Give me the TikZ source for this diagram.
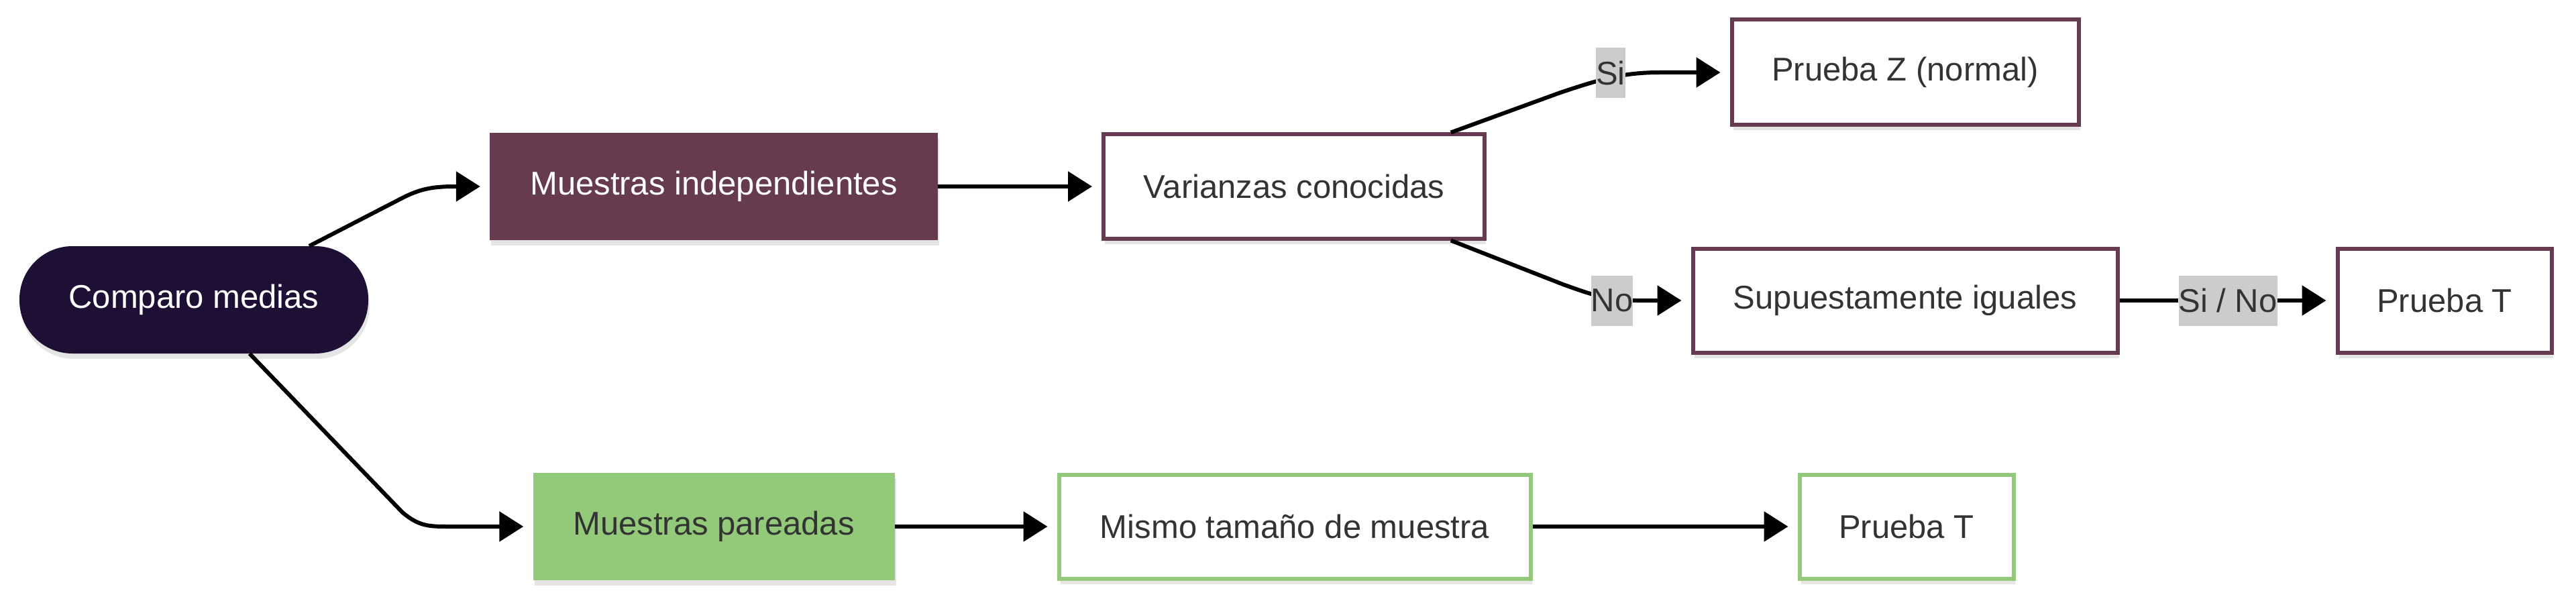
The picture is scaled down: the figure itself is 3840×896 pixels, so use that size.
\documentclass[tikz,border=0pt]{standalone}
\usepackage{fontspec}
\setmainfont{Liberation Sans}
\usetikzlibrary{arrows.meta,shadows,calc}
\definecolor{darkfill}{HTML}{1E1035}
\definecolor{maroon}{HTML}{663A4F}
\definecolor{grn}{HTML}{93CA7A}
\definecolor{txt}{HTML}{333333}
\definecolor{lbl}{HTML}{CCCCCC}
\tikzset{
  base/.style={rectangle, minimum height=160pt, inner sep=0pt,
    font=\fontsize{49}{58}\selectfont,
    drop shadow={shadow xshift=2pt, shadow yshift=-8pt, opacity=0.10, fill=black}},
  pill/.style={base, fill=darkfill, text=white, rounded corners=79pt},
  solidm/.style={base, fill=maroon, text=white},
  boxm/.style={base, fill=white, draw=maroon, line width=6pt, text=txt},
  solidg/.style={base, fill=grn, text=txt},
  boxg/.style={base, fill=white, draw=grn, line width=6pt, text=txt},
  lab/.style={rectangle, fill=lbl, text=txt, inner xsep=0pt, inner ysep=0pt,
    minimum height=75pt, font=\fontsize{49}{58}\selectfont},
  edge/.style={line width=6pt, draw=black},
  arr/.style={edge, -{Triangle[length=36pt,width=44pt]}, shorten >=14pt},
}
\begin{document}
\begin{tikzpicture}[x=1pt,y=-1pt]
\useasboundingbox (0,0) rectangle (3840,896);
\node[pill, minimum width=520pt] (A) at (289,447) {Comparo medias};
\node[solidm, minimum width=668pt] (B) at (1064,278) {Muestras independientes};
\node[boxm, minimum width=568pt, minimum height=155pt] (C) at (1929,278) {Varianzas conocidas};
\node[boxm, minimum width=517pt, minimum height=157pt] (D) at (2840,108) {Prueba Z (normal)};
\node[boxm, minimum width=633pt, minimum height=155pt] (E) at (2840,448) {Supuestamente iguales};
\node[boxm, minimum width=319pt, minimum height=155pt] (F) at (3644,448) {Prueba T};
\node[solidg, minimum width=539pt] (G) at (1064,785) {Muestras pareadas};
\node[boxg, minimum width=703pt, minimum height=155pt] (H) at (1930,785) {Mismo tamaño de muestra};
\node[boxg, minimum width=319pt, minimum height=155pt] (I) at (2842,785) {Prueba T};

\coordinate (a1) at (602,294);
\coordinate (a2) at (680,278);
\coordinate (b1) at (600,764);
\coordinate (b2) at (670,785);
\coordinate (s1) at (2326,138);
\coordinate (s2) at (2474,108);
\coordinate (n1) at (2330,424);
\coordinate (n2) at (2440,448);

\draw[arr] (C.19.5) -- (s1) .. controls (2386,118) and (2420,108) .. (s2) -- (D.west);
\draw[arr] (C.-19.5) -- (n1) .. controls (2380,442) and (2400,448) .. (n2) -- (E.west);

\node[lab] (L1) at (2401,109) {Si};
\node[lab] (L2) at (2403,448) {No};
\node[lab] (L3) at (3321,448) {Si / No};

\draw[arr] (A.25) -- (a1) .. controls (630,280) and (650,278) .. (a2) -- (B.west);
\draw[arr] (A.-44) -- (b1) .. controls (625,785) and (640,785) .. (b2) -- (G.west);
\draw[arr] (B.east) -- (C.west);
\draw[edge] (E.east) -- (L3.west);
\draw[arr] (L3.east) -- (F.west);
\draw[arr] (G.east) -- (H.west);
\draw[arr] (H.east) -- (I.west);
\end{tikzpicture}
\end{document}
